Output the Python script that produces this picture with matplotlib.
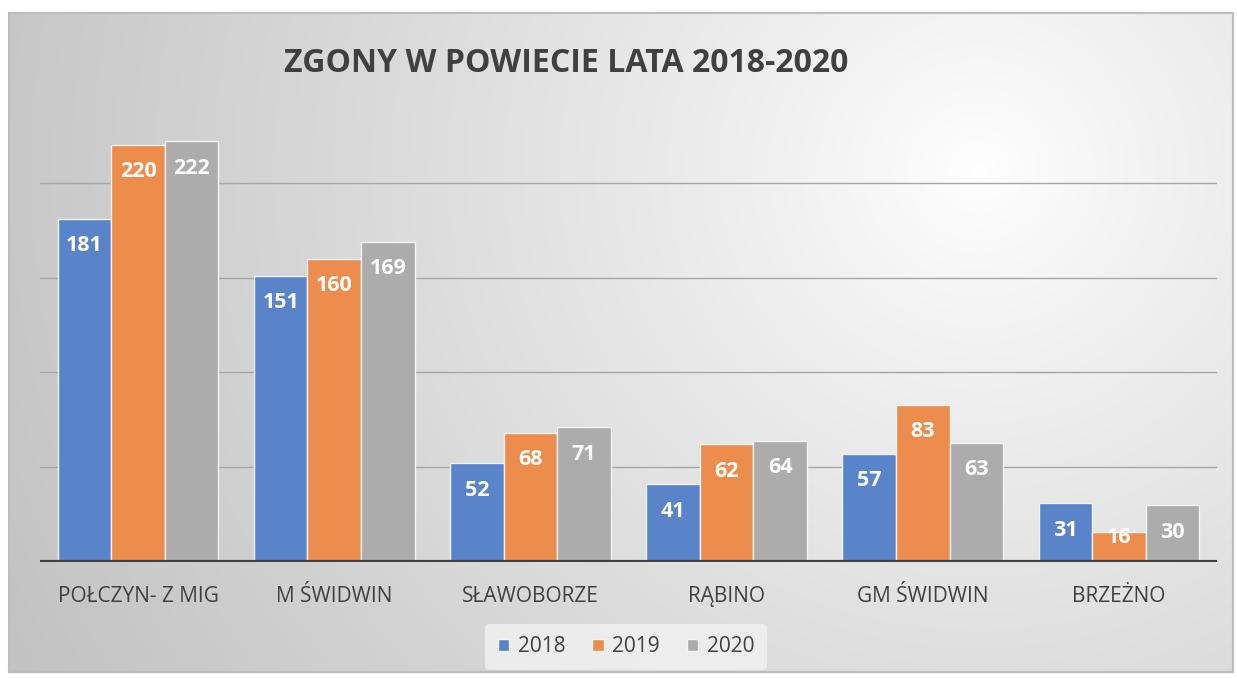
"""Deaths per commune, 2018-2020 - grouped bar chart."""

import matplotlib

matplotlib.use("Agg")
import matplotlib.pyplot as plt
import numpy as np

categories = ["POŁCZYN- Z MIG", "M ŚWIDWIN", "SŁAWOBORZE", "RĄBINO", "GM ŚWIDWIN", "BRZEŻNO"]
years = ["2018", "2019", "2020"]
deaths_2018 = [181, 151, 52, 41, 57, 31]
deaths_2019 = [220, 160, 68, 62, 83, 16]
deaths_2020 = [222, 169, 71, 64, 63, 30]
gridlines = [50, 100, 150, 200]

colors = ["#5a84c9", "#ec8d4d", "#acacac"]
text_color = "#404040"
plt.rcParams["font.family"] = ["Open Sans", "DejaVu Sans"]

W, H = 1237, 678
fig = plt.figure(figsize=(W / 100, H / 100), dpi=100)
fig.patch.set_facecolor("white")

# panel with radial gradient background
px0, px1, py0, py1 = 9, 1233, 13, 672
bg = fig.add_axes([px0 / W, 1 - py1 / H, (px1 - px0) / W, (py1 - py0) / H])
gx, gy = np.meshgrid(np.linspace(0, 1, 400), np.linspace(0, 1, 220))
cx, cy = (980 - px0) / (px1 - px0), (170 - py0) / (py1 - py0)
d = np.sqrt(((gx - cx) * 1.8) ** 2 + (gy - cy) ** 2)
d = np.clip(d / d.max(), 0, 1)
shade = 1.0 - 0.24 * d ** 0.85
bg.imshow(np.dstack([shade] * 3), aspect="auto", extent=[0, 1, 1, 0], interpolation="bilinear")
bg.set_xlim(0, 1)
bg.set_ylim(1, 0)
bg.set_xticks([])
bg.set_yticks([])
for s in bg.spines.values():
    s.set_color("#bdbdbd")
    s.set_linewidth(1.5)
bg.set_zorder(0)

# plot area
x0, x1, y0, y1 = 40, 1217, 562, 88
ax = fig.add_axes([x0 / W, 1 - y0 / H, (x1 - x0) / W, (y0 - y1) / H])
ax.set_zorder(1)
ax.patch.set_alpha(0)
n = len(categories)
ax.set_xlim(-0.5, n - 0.5)
ax.set_ylim(0, 250)
for g in gridlines:
    ax.axhline(g, color="#a6a6a6", linewidth=1.0, zorder=1)
ax.axhline(0, color="#404040", linewidth=3.0, zorder=4)

x = np.arange(n)
w = 0.273
series = [deaths_2018, deaths_2019, deaths_2020]
for i, (vals, col, yr) in enumerate(zip(series, colors, years)):
    pos = x + (i - 1) * w
    ax.bar(pos, vals, width=w, color=col, edgecolor="#f2f2f2", linewidth=1.0,
           label=yr, zorder=3)
    for xp, v in zip(pos, vals):
        ax.text(xp, max(v - 14.2, 13.0), str(v), ha="center", va="center",
                color="white", fontsize=15.5, fontweight="bold", zorder=5)

ax.set_xticks(x)
ax.set_xticklabels(categories, fontsize=15, color=text_color)
ax.tick_params(axis="x", length=0, pad=17)
ax.set_yticks([])
for s in ax.spines.values():
    s.set_visible(False)

fig.text(566 / W, 1 - 64 / H, "ZGONY W POWIECIE LATA 2018-2020", ha="center", va="center",
         fontsize=23, fontweight="bold", color=text_color)

leg = fig.legend(loc="center", bbox_to_anchor=(626 / W, 1 - 647 / H), ncol=3, frameon=True,
                 fontsize=15, handlelength=0.55, handleheight=0.55, handletextpad=0.4,
                 columnspacing=1.3, borderpad=0.6)
leg.get_frame().set_facecolor("#f2f2f2")
leg.get_frame().set_edgecolor("none")
leg.get_frame().set_alpha(0.8)
for t in leg.get_texts():
    t.set_color(text_color)

fig.savefig("out.png", dpi=100)
plt.close(fig)
